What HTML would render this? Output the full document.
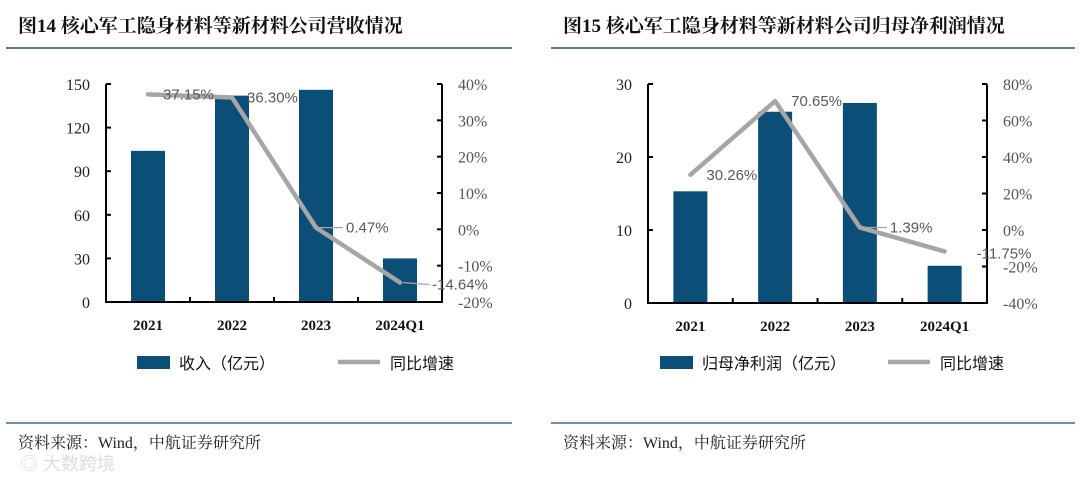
<!DOCTYPE html>
<html><head><meta charset="utf-8"><style>
html,body{margin:0;padding:0;background:#fff;width:1080px;height:484px;overflow:hidden}
svg{display:block}
</style></head><body>
<svg id="s" width="1080" height="484" xmlns="http://www.w3.org/2000/svg">
<text x="18" y="32" font-family="Liberation Serif, Noto Serif CJK SC, serif" font-weight="bold" font-size="19" fill="#111">图14  核心军工隐身材料等新材料公司营收情况</text>
<line x1="6" y1="48" x2="512" y2="48" stroke="#1f4e79" stroke-width="1.5"/>
<text x="563" y="32" font-family="Liberation Serif, Noto Serif CJK SC, serif" font-weight="bold" font-size="19" fill="#111">图15  核心军工隐身材料等新材料公司归母净利润情况</text>
<line x1="551" y1="48" x2="1075" y2="48" stroke="#1f4e79" stroke-width="1.5"/>
<line x1="6" y1="423" x2="512" y2="423" stroke="#1f4e79" stroke-width="1.2"/>
<line x1="551" y1="423" x2="1075" y2="423" stroke="#1f4e79" stroke-width="1.2"/>
<text x="18" y="448" font-family="Liberation Serif, Noto Serif CJK SC, serif" font-size="16" fill="#222">资料来源：Wind，中航证券研究所</text>
<text x="563" y="448" font-family="Liberation Serif, Noto Serif CJK SC, serif" font-size="16" fill="#222">资料来源：Wind，中航证券研究所</text>
<text x="20" y="470" font-family="Liberation Sans, Noto Sans CJK SC, sans-serif" font-size="18" fill="#ddd">◎ 大数跨境</text>
</svg>
<script>
const categories = ["2021","2022","2023","2024Q1"];
const revenue = [104, 142, 146, 30];
const revenueGrowth = [37.15, 36.30, 0.47, -14.64];
const revLeftTicks = [0,30,60,90,120,150];
const revRightTicks = [-20,-10,0,10,20,30,40];
const profit = [15.3, 26.2, 27.4, 5.1];
const profitGrowth = [30.26, 70.65, 1.39, -11.75];
const profLeftTicks = [0,10,20,30];
const profRightTicks = [-40,-20,0,20,40,60,80];

const svg = document.getElementById('s');
const NS = 'http://www.w3.org/2000/svg';
function mk(tag, attrs, text){
  const e = document.createElementNS(NS, tag);
  for (const k in attrs) e.setAttribute(k, attrs[k]);
  if (text !== undefined) e.textContent = text;
  svg.appendChild(e);
  return e;
}
function chart(cfg){
  const {x0,x1,yTop,yBot,lMin,lMax,rMin,rMax,bars,line,lTicks,rTicks,labelOff,leaders,legendBar,legendBarX,legendLineX,pfx} = cfg;
  const n = categories.length, cw = (x1-x0)/n;
  const yl = v => yBot - (v-lMin)/(lMax-lMin)*(yBot-yTop);
  const yr = v => yBot - (v-rMin)/(rMax-rMin)*(yBot-yTop);
  const cx = i => x0 + cw*(i+0.5);
  bars.forEach((v,i)=>{
    const b = mk('rect',{x:cx(i)-17,y:yl(v),width:34,height:yBot-yl(v),fill:'#0b4f79'});
    
    
  });
  const ax = mk('path',{d:`M${x0},${yTop} V${yBot} H${x1} V${yTop}`,fill:'none',stroke:'#000','stroke-width':2});
  
  
  lTicks.forEach(t=>{
    const y = yl(t);
    const tk = mk('line',{x1:x0,x2:x0+5,y1:y,y2:y,stroke:'#000','stroke-width':2});
    
    
    const lb = mk('text',{x:x0-16,y:y+6,'text-anchor':'end','font-family':'Liberation Serif, serif','font-size':16,fill:'#222'},String(t));
    
    
  });
  rTicks.forEach(t=>{
    const y = yr(t);
    const tk = mk('line',{x1:x1-5,x2:x1,y1:y,y2:y,stroke:'#000','stroke-width':2});
    
    
    const lb = mk('text',{x:x1+16,y:y+6,'font-family':'Liberation Serif, serif','font-size':16,fill:'#555'},t+'%');
    
    
  });
  for(let i=1;i<n;i++){
    const tk = mk('line',{x1:x0+cw*i,x2:x0+cw*i,y1:yBot,y2:yBot-5,stroke:'#000','stroke-width':2});
    
    
  }
  categories.forEach((c,i)=>{
    const lb = mk('text',{x:cx(i),y:yBot+28,'text-anchor':'middle','font-family':'Liberation Serif, serif','font-weight':'bold','font-size':15,fill:'#111'},c);
    
    
  });
  const pl = mk('polyline',{points:line.map((v,i)=>cx(i)+','+yr(v)).join(' '),fill:'none',stroke:'#a6a6a6','stroke-width':4.5,'stroke-linejoin':'round','stroke-linecap':'round'});
  
  
  line.forEach((v,i)=>{
    const [dx,dy] = labelOff[i];
    if (leaders[i]) {
      const ld = mk('line',{x1:cx(i)+3,x2:cx(i)+dx-3,y1:yr(v),y2:yr(v)+dy-5,stroke:'#a6a6a6','stroke-width':1.2});
      
      
    }
    const lb = mk('text',{x:cx(i)+dx,y:yr(v)+dy,'font-family':'Liberation Sans, sans-serif','font-size':15,fill:'#595959'},v.toFixed(2)+'%');
    
    
  });
  const lr = mk('rect',{x:legendBarX,y:356,width:33,height:13,fill:'#0b4f79'});
  
  
  const lt = mk('text',{x:legendBarX+42,y:369,'font-family':'Liberation Sans, Noto Sans CJK SC, sans-serif','font-size':16,fill:'#111'},legendBar);
  
  
  const ll = mk('line',{x1:legendLineX,x2:legendLineX+42,y1:362,y2:362,stroke:'#a6a6a6','stroke-width':4.5});
  
  
  const lt2 = mk('text',{x:legendLineX+52,y:369,'font-family':'Liberation Sans, Noto Sans CJK SC, sans-serif','font-size':16,fill:'#111'},'同比增速');
  
  
}
chart({x0:106,x1:442,yTop:84,yBot:302,lMin:0,lMax:150,rMin:-20,rMax:40,bars:revenue,line:revenueGrowth,
  lTicks:revLeftTicks,rTicks:revRightTicks,labelOff:[[15,5],[15,5],[30,5],[32,7]],leaders:[false,false,true,true],
  legendBar:'收入（亿元）',legendBarX:137,legendLineX:338,pfx:'revenue'});
chart({x0:648,x1:987,yTop:84,yBot:303,lMin:0,lMax:30,rMin:-40,rMax:80,bars:profit,line:profitGrowth,
  lTicks:profLeftTicks,rTicks:profRightTicks,labelOff:[[16,5],[16,5],[30,5],[32,7]],leaders:[false,false,true,false],
  legendBar:'归母净利润（亿元）',legendBarX:660,legendLineX:888,pfx:'profit'});
</script>
</body></html>
